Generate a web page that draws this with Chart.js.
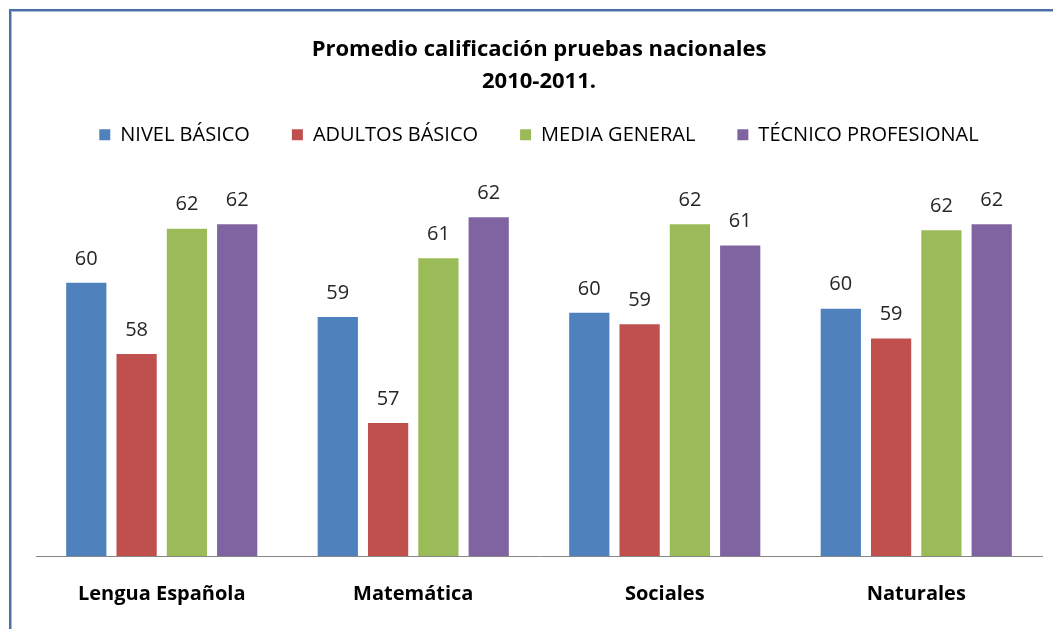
<!DOCTYPE html>
<html>
<head>
<meta charset="utf-8">
<script src="https://cdn.jsdelivr.net/npm/chart.js@4.4.1/dist/chart.umd.min.js"></script>
<style>
  html, body { margin: 0; padding: 0; background: #fff; }
  #wrap { position: relative; width: 1053px; height: 629px; }
  #frame { position: absolute; left: 9px; top: 9px; right: 0; bottom: 0;
           border-left: 2px solid #4a6ea5; border-top: 2px solid #4a6ea5;
           box-shadow: inset 1px 1px 0 #a9bcdb; pointer-events: none; }
</style>
</head>
<body>
<div id="wrap">
  <canvas id="chart" width="1053" height="629"></canvas>
  <div id="frame"></div>
</div>
<script>
const categories = ['Lengua Española', 'Matemática', 'Sociales', 'Naturales'];
const seriesNames = ['NIVEL BÁSICO', 'ADULTOS BÁSICO', 'MEDIA GENERAL', 'TÉCNICO PROFESIONAL'];
const nivelBasico = [60.37, 59.45, 59.56, 59.67];
const adultosBasico = [58.45, 56.59, 59.25, 58.87];
const mediaGeneral = [61.83, 61.03, 61.95, 61.79];
const tecnicoProfesional = [61.95, 62.14, 61.38, 61.95];
const colors = ['#4f81bd', '#c0504d', '#9bbb59', '#8064a2'];

const FONT = '"Open Sans", "Liberation Sans", sans-serif';

// numbers above each bar
const barLabels = {
    id: 'barLabels',
    afterDatasetsDraw(chart){
        const ctx = chart.ctx;
        ctx.save();
        ctx.font = '20px ' + FONT;
        ctx.fillStyle = '#262626';
        ctx.textAlign = 'center';
        ctx.textBaseline = 'middle';
        chart.data.datasets.forEach((ds, i) => {
            chart.getDatasetMeta(i).data.forEach((bar, j) => {
                ctx.fillText(Math.round(ds.data[j]), bar.x, bar.y - 24);
            });
        });
        ctx.restore();
    }
};

// extra room under the legend
const legendGap = {
    id: 'legendGap',
    beforeInit(chart){
        const fit = chart.legend.fit;
        chart.legend.fit = function(){
            fit.bind(chart.legend)();
            this.height += 12;
        };
    }
};

const ctx = document.getElementById('chart').getContext('2d');
new Chart(ctx, {
    type: 'bar',
    data: {
        labels: categories,
        datasets: [nivelBasico, adultosBasico, mediaGeneral, tecnicoProfesional].map((d, i) => ({
            label: seriesNames[i],
            data: d,
            backgroundColor: colors[i],
            borderWidth: 0,
            categoryPercentage: 0.8,
            barPercentage: 0.8
        }))
    },
    options: {
        responsive: false,
        animation: false,
        layout: { padding: { left: 36, right: 11, top: 0, bottom: 23 } },
        scales: {
            y: { display: false, min: 53, max: 63.5 },
            x: {
                grid: { display: false },
                border: { display: true, color: '#868686', width: 1 },
                ticks: { color: '#000', padding: 18, font: { family: FONT, size: 20, weight: 'bold' } },
                afterFit(scale){ scale.height = 50; }
            }
        },
        plugins: {
            title: {
                display: true,
                text: ['Promedio calificación pruebas nacionales', '2010-2011.'],
                color: '#000',
                font: { family: FONT, size: 22, weight: 'bold', lineHeight: 1.45 },
                padding: { top: 34, bottom: -15 }
            },
            legend: {
                labels: {
                    color: '#000',
                    boxWidth: 11,
                    boxHeight: 11,
                    padding: 42,
                    font: { family: FONT, size: 20 }
                }
            },
            tooltip: { enabled: false }
        }
    },
    plugins: [barLabels, legendGap]
});
</script>
</body>
</html>
